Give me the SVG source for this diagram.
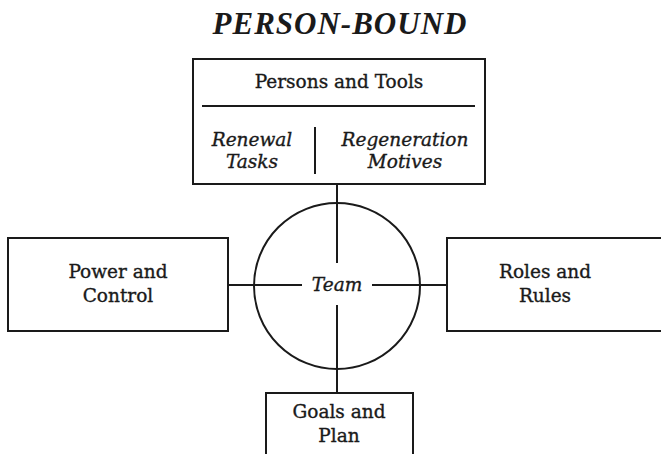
<svg xmlns="http://www.w3.org/2000/svg" width="661" height="454" viewBox="0 0 661 454">
<style>
.box{fill:#fff;stroke:#1a1a1a;stroke-width:2}
.ln{stroke:#1a1a1a;stroke-width:2;fill:none}
text{font-family:"DejaVu Serif","Liberation Serif",serif;fill:#1a1a1a;text-anchor:middle;stroke:#1a1a1a;stroke-width:0.35px}
.t{font-size:18.5px}
.i{font-size:18.5px;font-style:italic}
</style>
<rect width="661" height="454" fill="#fff"/>
<text x="340" y="34" style="font-size:31px;font-style:italic;font-family:'Liberation Serif',serif;font-weight:bold;letter-spacing:1px;stroke-width:0">PERSON-BOUND</text>
<g id="connectors">
<line class="ln" x1="337" y1="184" x2="337" y2="263"/>
<line class="ln" x1="337" y1="305" x2="337" y2="393"/>
<line class="ln" x1="228" y1="285" x2="302" y2="285"/>
<line class="ln" x1="372" y1="285" x2="447" y2="285"/>
</g>
<g id="team">
<circle class="ln" cx="337" cy="286" r="83"/>
<text class="i" x="337" y="291">Team</text>
</g>
<g id="persons">
<rect class="box" x="193" y="59" width="292" height="125"/>
<text class="t" x="339" y="88">Persons and Tools</text>
<line class="ln" x1="202" y1="106" x2="475" y2="106"/>
<line class="ln" x1="315" y1="127" x2="315" y2="174"/>
<text class="i" x="252" y="146">Renewal</text>
<text class="i" x="252" y="168">Tasks</text>
<text class="i" x="405" y="146">Regeneration</text>
<text class="i" x="405" y="168">Motives</text>
</g>
<g id="power">
<rect class="box" x="8" y="238" width="220" height="93"/>
<text class="t" x="118" y="278">Power and</text>
<text class="t" x="118" y="302">Control</text>
</g>
<g id="roles">
<rect class="box" x="447" y="238" width="220" height="93"/>
<text class="t" x="545" y="278">Roles and</text>
<text class="t" x="545" y="302">Rules</text>
</g>
<g id="goals">
<rect class="box" x="266" y="393" width="147" height="70"/>
<text class="t" x="339" y="418">Goals and</text>
<text class="t" x="339" y="442">Plan</text>
</g>
</svg>
